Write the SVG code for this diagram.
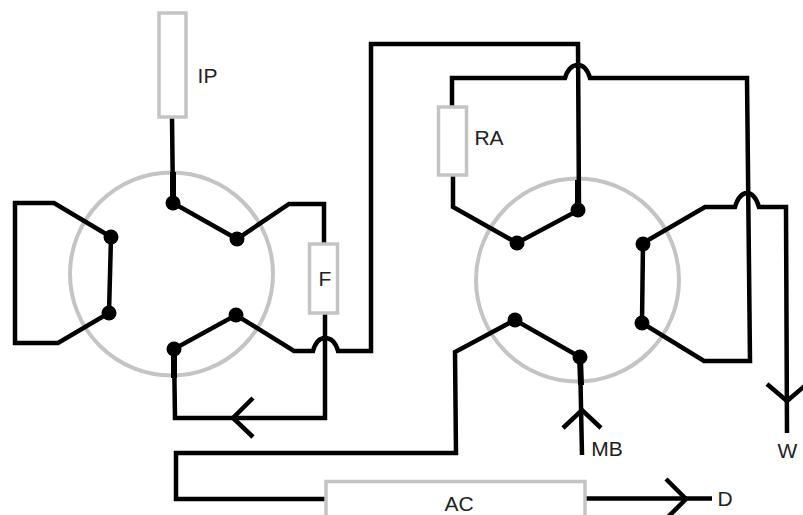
<svg xmlns="http://www.w3.org/2000/svg" width="803" height="515" viewBox="0 0 803 515">
<style>
.w{fill:none;stroke:#000;stroke-width:4.500;stroke-linejoin:miter}
.t{fill:none;stroke:#000;stroke-width:6}
.c{fill:none;stroke:#c4c4c4;stroke-width:4}
.b{fill:#fff;stroke:#c4c4c4;stroke-width:3.5}
.d{fill:#000}
text{font-family:"Liberation Sans",Arial,sans-serif;font-size:21px;fill:#222;text-anchor:middle}
</style>
<rect width="803" height="515" fill="#fff"/>
<g id="rotor-left"><circle class="c" cx="171.5" cy="274" r="101.5"/></g>
<g id="rotor-right"><circle class="c" cx="577.5" cy="280" r="101.5"/></g>
<g id="connectors">
<path class="w" d="M172 117L173 203L237 239L289 204H324V244"/>
<path class="w" d="M111 237L54 203H15V343H58L109 313Z"/>
<path class="w" d="M325 313V418H175L174 349L236 315L294 351H313C316 340 321 338 325 338C329 338 335 340 338 351H371V44H578L579 210L517 243L453 207V175"/>
<path class="w" d="M452 107V78H565C568 68 573 65 578 65C583 65 587 68 590 78H747L750 361H704L642 323L643 243L705 207H735C738 197 743 193 747 193C752 193 756 197 759 207H786L787 433"/>
<path class="w" d="M582 455L580 357L515 320L455 352L456 453H176V499H326"/>
<path class="w" d="M586 498.500H712"/>
<path class="w" d="M253 398L233 418L253 437"/>
<path class="w" d="M563 428L582 410L601 428"/>
<path class="w" d="M767 384L787 401L807 384"/>
<path class="w" d="M666 479L686 499L666 519"/>
<path class="t" d="M173 172V203M174 349V378M578 180V210M580 357L581 385"/>
</g>
<g id="IP"><rect class="b" x="159" y="13" width="27" height="104"/><text x="207.500" y="83">IP</text></g>
<g id="F"><rect class="b" x="309.500" y="244" width="28" height="69"/><text x="325" y="286">F</text></g>
<g id="RA"><rect class="b" x="438.500" y="107" width="28" height="68"/><text x="489" y="145">RA</text></g>
<g id="AC"><rect class="b" x="326" y="481.500" width="259" height="50"/><text x="459" y="511">AC</text></g>
<g id="MB"><text x="607" y="456">MB</text></g>
<g id="W"><text x="787.500" y="458">W</text></g>
<g id="D"><text x="725" y="506">D</text></g>
<g id="terminals">
<circle class="d" cx="173" cy="203" r="7.500"/><circle class="d" cx="237" cy="239" r="7.500"/><circle class="d" cx="236" cy="315" r="7.500"/><circle class="d" cx="174" cy="349" r="7.500"/><circle class="d" cx="111" cy="237" r="7.500"/><circle class="d" cx="109" cy="313" r="7.500"/>
<circle class="d" cx="578" cy="210" r="7.500"/><circle class="d" cx="517" cy="243" r="7.500"/><circle class="d" cx="643" cy="244" r="7.500"/><circle class="d" cx="642" cy="323" r="7.500"/><circle class="d" cx="515" cy="320" r="7.500"/><circle class="d" cx="580" cy="357" r="7.500"/>
</g>
</svg>
